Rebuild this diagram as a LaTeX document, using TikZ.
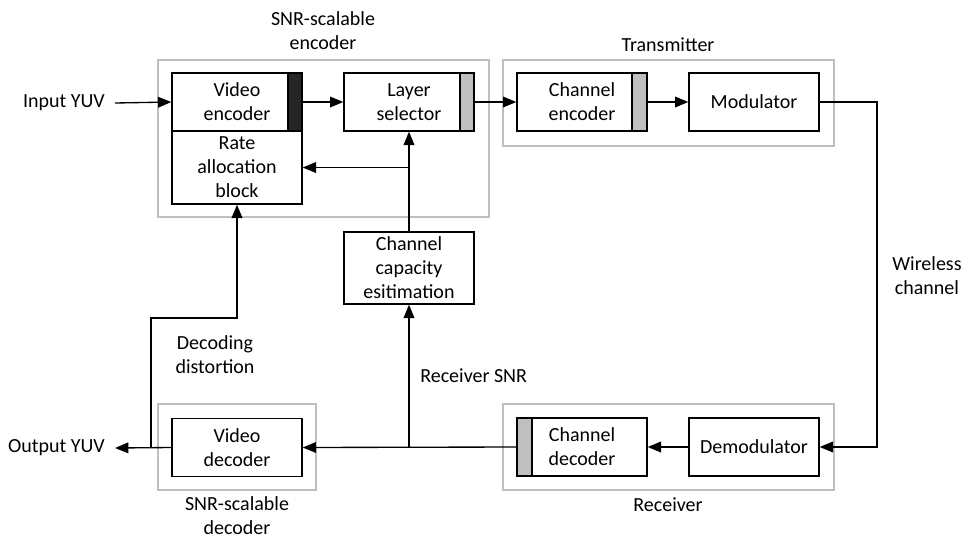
\documentclass[tikz,border=0pt]{standalone}
\usepackage{fontspec}
\setmainfont{Carlito}
\usetikzlibrary{arrows.meta}

\tikzset{
  blk/.style={draw=black, line width=1pt, fill=white, minimum width=97.5pt,
    minimum height=43.5pt, inner sep=0pt, align=center,
    font=\fontsize{15}{18}\selectfont},
  grp/.style={draw=black!25, line width=1.5pt},
  lbl/.style={align=center, inner sep=0pt, font=\fontsize{15}{18}\selectfont},
  wire/.style={line width=1pt},
  arr/.style={wire, -{Triangle[length=10pt,width=8pt]}},
  darkbar/.style={fill=black!85, draw=black, line width=1pt},
  greybar/.style={fill=black!25, draw=black, line width=1pt}
}

\begin{document}
\begin{tikzpicture}[x=0.75pt,y=-0.75pt]
\useasboundingbox (0,0) rectangle (968,540);

% group frames
\draw[grp] (158,60) rectangle (489,217);
\draw[grp] (503,60) rectangle (834,146);
\draw[grp] (158,404) rectangle (316,490);
\draw[grp] (503,404) rectangle (834,490);

% blocks
\node[blk] (venc) at (237,102) {Video\\encoder};
\node[blk, minimum height=54.75pt] (rate) at (237,167.5) {Rate\\allocation\\block};
\node[blk] (layer) at (409,102) {Layer\\selector};
\node[blk] (chenc) at (582,102) {Channel\\encoder};
\node[blk] (mod) at (754,102) {Modulator};
\node[blk, minimum height=54pt] (cce) at (409,268) {Channel\\capacity\\esitimation};
\node[blk] (vdec) at (237,447.5) {Video\\decoder};
\node[blk] (chdec) at (582,447) {Channel\\decoder};
\node[blk] (demod) at (754,447) {Demodulator};

% buffer bars
\draw[darkbar] (288,73) rectangle (302,131);
\draw[greybar] (460,73) rectangle (474,131);
\draw[greybar] (632,73) rectangle (647,131);
\draw[greybar] (517,418) rectangle (532,476);

% labels
\node[lbl] (lenc) at (323,31) {SNR-scalable\\encoder};
\node[lbl] (ltx) at (668,45) {Transmitter};
\node[lbl] (lwc) at (927,276) {Wireless\\channel};
\node[lbl, anchor=west] (lsnr) at (420,376) {Receiver SNR};
\node[lbl] (ldd) at (215,355) {Decoding\\distortion};
\node[lbl] (lrx) at (668,505) {Receiver};
\node[lbl] (ldec) at (237,516) {SNR-scalable\\decoder};
\node[lbl, anchor=east, inner xsep=7.5pt] (in) at (115,103) {Input YUV};
\node[lbl, anchor=east, inner xsep=7.5pt] (out) at (115,448) {Output YUV};

% junction and corner points
\coordinate (wtop) at (877,102);
\coordinate (snr) at (409,447.5);
\coordinate (fb) at (409,167.5);
\coordinate (dd) at (151,447.5);
\coordinate (ddk) at (151,318);

% forward path
\draw[arr] (in.east) -- (venc.west);
\draw[arr] (venc.east) -- (layer.west);
\draw[arr] (layer.east) -- (chenc.west);
\draw[arr] (chenc.east) -- (mod.west);
\draw[arr] (mod.east) -- (wtop) |- (demod.east);
\draw[arr] (demod.west) -- (chdec.east);
\draw[arr] (chdec.west) -- (vdec.east);
\draw[arr] (vdec.west) -- (out.east);

% feedback paths
\draw[arr] (snr) -- (cce.south);
\draw[arr] (cce.north) -- (layer.south);
\draw[arr] (fb) -- (rate.east);
\draw[arr] (dd) -- (ddk) -| (rate.south);
\end{tikzpicture}
\end{document}
